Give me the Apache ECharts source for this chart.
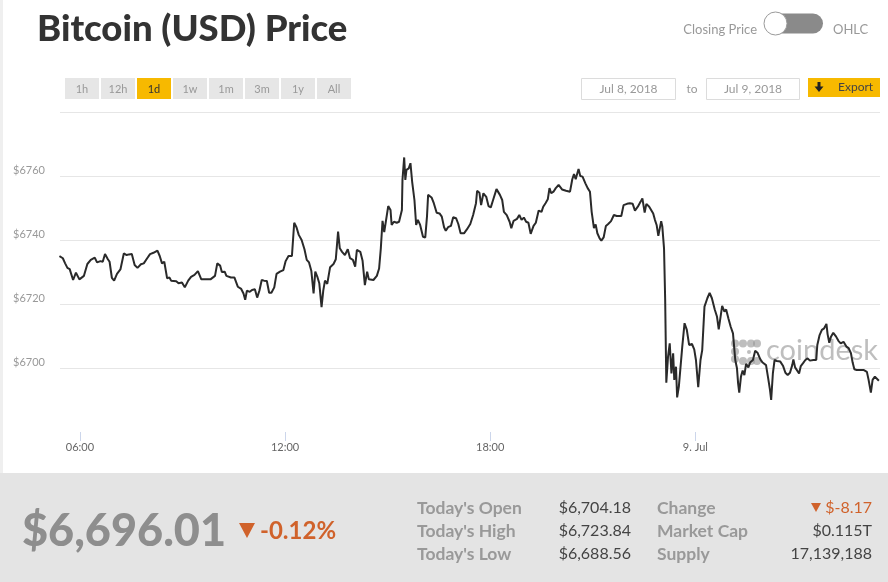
<!DOCTYPE html>
<html><head><meta charset="utf-8">
<script src="https://cdn.jsdelivr.net/npm/echarts@6/dist/echarts.min.js"></script>
<style>html,body{margin:0;padding:0;background:#fff;overflow:hidden}#c{width:888px;height:582px}</style>
</head><body><div id="c"></div>
<script>
// Sample times (HH:MM), starting Jul 8 2018; a time smaller than the previous one rolls into Jul 9
const times = [
'05:24','05:30','05:34','05:38','05:42','05:48','05:53','05:59','06:07','06:13','06:19','06:26','06:30','06:36','06:40','06:44','06:49','06:52','06:56','07:00',
'07:05','07:11','07:17','07:22','07:26','07:31','07:36','07:41','07:47','07:52','07:58','08:03','08:09','08:12','08:16','08:20','08:24','08:28','08:33','08:37',
'08:40','08:49','08:53','08:59','09:04','09:10','09:15','09:21','09:27','09:33','09:42','09:49','09:57','10:01','10:06','10:09','10:14','10:17','10:20','10:25',
'10:31','10:37','10:43','10:47','10:50','10:53','10:58','11:02','11:07','11:11','11:15','11:19','11:23','11:28','11:32','11:36','11:41','11:45','11:51','11:57',
'12:01','12:06','12:12','12:16','12:20','12:24','12:29','12:34','12:38','12:42','12:46','12:50','12:53','12:57','13:00','13:04','13:07','13:10','13:14','13:19',
'13:25','13:29','13:33','13:36','13:40','13:45','13:50','13:54','13:59','14:03','14:06','14:12','14:16','14:20','14:24','14:27','14:35','14:41','14:45','14:48',
'14:51','14:54','14:57','15:01','15:05','15:07','15:11','15:16','15:20','15:25','15:26','15:29','15:31','15:33','15:37','15:40','15:43','15:47','15:50','15:53',
'15:57','16:02','16:06','16:09','16:11','16:17','16:21','16:26','16:31','16:35','16:39','16:42','16:46','16:51','16:55','17:00','17:04','17:08','17:14','17:19',
'17:25','17:30','17:35','17:37','17:41','17:44','17:48','17:53','17:57','18:01','18:05','18:11','18:17','18:21','18:24','18:29','18:34','18:37','18:41','18:47',
'18:51','18:55','18:59','19:03','19:07','19:11','19:16','19:20','19:25','19:30','19:33','19:37','19:41','19:44','19:47','19:51','19:55','20:00','20:06','20:13',
'20:20','20:24','20:27','20:30','20:32','20:35','20:38','20:42','20:47','20:51','20:55','20:58','21:02','21:05','21:08','21:12','21:15','21:19','21:23','21:27',
'21:32','21:37','21:42','21:50','21:54','22:00','22:05','22:10','22:14','22:19','22:24','22:27','22:31','22:34','22:39','22:42','22:46','22:49','22:52','22:55',
'22:58','23:00','23:02','23:05','23:07','23:09','23:12','23:15','23:18','23:21','23:23','23:26','23:28','23:31','23:34','23:37','23:41','23:45','23:49','23:54',
'23:58','00:01','00:05','00:09','00:12','00:16','00:21','00:25','00:29','00:34','00:38','00:41','00:44','00:47','00:51','00:54','00:58','01:02','01:06','01:08',
'01:10','01:13','01:15','01:17','01:20','01:23','01:26','01:29','01:33','01:36','01:41','01:45','01:49','01:54','01:58','02:04','02:08','02:11','02:13','02:16',
'02:19','02:23','02:29','02:34','02:38','02:42','02:46','02:50','02:52','02:55','02:58','03:02','03:05','03:09','03:13','03:17','03:21','03:27','03:32','03:34',
'03:38','03:42','03:46','03:50','03:52','03:55','03:58','04:02','04:07','04:11','04:15','04:20','04:25','04:29','04:33','04:36','04:39','04:43','04:49','04:55',
'05:01','05:04','05:08','05:11','05:15','05:18','05:22'
];
const prices = [
6735.0,6734.3,6732.7,6731.3,6730.9,6727.5,6729.8,6727.7,6728.8,6732.5,6733.8,6734.5,6733.0,6733.4,6733.2,6735.6,6734.0,6733.2,6728.2,6727.3,
6729.4,6730.8,6735.8,6735.3,6735.5,6735.6,6732.2,6731.3,6732.4,6732.7,6734.3,6735.6,6736.0,6735.6,6736.7,6735.0,6732.7,6733.2,6728.0,6728.3,
6727.3,6727.1,6726.5,6726.7,6725.2,6727.3,6728.5,6729.1,6730.3,6727.7,6727.7,6727.7,6728.8,6732.7,6732.0,6730.0,6730.1,6728.8,6729.4,6728.3,
6728.3,6725.4,6724.7,6723.3,6721.3,6724.2,6723.8,6724.4,6724.6,6722.0,6724.2,6727.5,6727.3,6727.2,6723.5,6723.5,6725.2,6729.4,6730.1,6730.6,
6733.4,6735.0,6735.0,6745.4,6744.0,6741.6,6740.0,6737.1,6733.8,6733.0,6730.4,6723.3,6730.1,6728.3,6726.5,6719.0,6724.2,6727.3,6726.3,6731.5,
6732.5,6734.0,6742.6,6737.4,6736.3,6735.3,6737.1,6734.3,6733.8,6731.7,6736.9,6736.3,6733.5,6725.9,6730.1,6727.7,6727.5,6728.8,6731.1,6737.4,
6746.0,6742.5,6742.8,6750.6,6749.4,6744.7,6745.7,6745.4,6745.7,6749.4,6758.8,6765.8,6758.8,6761.9,6762.4,6764.0,6758.2,6752.5,6744.7,6746.3,
6744.7,6741.0,6740.8,6747.3,6754.1,6753.3,6751.5,6748.5,6748.3,6747.3,6744.0,6742.9,6744.0,6744.4,6747.1,6746.8,6745.0,6742.1,6742.1,6743.3,
6745.0,6747.8,6751.5,6755.4,6754.8,6750.9,6754.6,6753.5,6750.6,6750.2,6752.5,6755.9,6754.1,6752.5,6748.8,6747.8,6745.7,6743.7,6746.0,6746.6,
6747.8,6746.3,6747.0,6745.7,6745.4,6741.9,6744.4,6745.4,6749.2,6748.8,6750.4,6751.5,6752.7,6756.2,6754.6,6755.1,6756.2,6757.2,6755.8,6755.4,
6755.1,6759.0,6760.6,6759.0,6760.3,6762.2,6760.0,6759.8,6757.7,6756.2,6755.1,6748.8,6743.7,6744.9,6742.1,6740.5,6739.8,6740.8,6744.4,6745.0,
6745.9,6747.8,6747.5,6747.5,6750.9,6751.3,6751.5,6751.3,6749.2,6750.4,6752.0,6753.0,6748.6,6751.3,6750.4,6750.9,6748.3,6746.3,6744.7,6741.3,
6740.8,6745.9,6744.2,6737.4,6721.3,6695.4,6703.5,6707.7,6698.3,6704.6,6696.3,6700.4,6690.8,6694.2,6694.2,6706.7,6714.0,6711.9,6707.2,6707.5,
6705.8,6702.5,6694.0,6702.5,6705.6,6719.2,6721.8,6723.5,6721.8,6718.3,6716.0,6712.1,6712.7,6719.4,6717.6,6718.3,6715.5,6712.9,6710.8,6706.7,
6702.5,6699.9,6695.2,6692.3,6697.3,6699.2,6697.8,6701.3,6700.2,6701.7,6702.5,6705.4,6704.8,6702.7,6701.7,6700.9,6696.5,6693.1,6690.0,6698.3,
6702.5,6702.2,6702.0,6700.6,6698.5,6697.8,6698.5,6700.9,6702.7,6700.2,6700.2,6698.3,6700.6,6701.5,6702.5,6703.0,6702.3,6702.5,6702.5,6707.2,
6710.3,6711.9,6712.4,6713.8,6710.6,6707.9,6709.8,6711.0,6709.8,6708.5,6707.7,6708.2,6706.7,6706.2,6704.6,6701.7,6699.6,6699.4,6699.4,6699.4,
6698.8,6696.3,6692.3,6696.3,6697.3,6696.8,6696.0
];
const startDay = '2018-07-08';
const axisStart = '2018-07-08T05:25:00';
const axisEnd = '2018-07-09T05:24:00';
const xTickTimes = ['2018-07-08T06:00:00','2018-07-08T12:00:00','2018-07-08T18:00:00','2018-07-09T00:00:00'];
const xTickLabels = ['06:00','12:00','18:00','9. Jul'];
const yMin = 6680, yMax = 6780, yStep = 20;

const periodButtons = ['1h','12h','1d','1w','1m','3m','1y','All'];
const activePeriod = '1d';
const dateFrom = 'Jul 8, 2018', dateTo = 'Jul 9, 2018';
const currentPrice = '$6,696.01';
const changePct = '-0.12%';
const statLabelsL = ["Today's Open", "Today's High", "Today's Low"];
const statValuesL = ['$6,704.18', '$6,723.84', '$6,688.56'];
const statLabelsR = ['Change', 'Market Cap', 'Supply'];
const statValuesR = ['$-8.17', '$0.115T', '17,139,188'];

// build timestamps (day rolls over when clock goes backwards)
const base = new Date(startDay + 'T00:00:00').getTime();
let dayOffset = 0, prevMin = -1;
const seriesData = times.map((t, i) => {
  const [h, m] = t.split(':').map(Number);
  const mins = h * 60 + m;
  if (mins < prevMin) dayOffset += 1;
  prevMin = mins;
  return [base + (dayOffset * 1440 + mins) * 60000, prices[i]];
});
const tickTs = xTickTimes.map(s => new Date(s).getTime());

const FONT = 'Lato';
const ORANGE = '#d0622b';
const YELLOW = '#f7b900';
const graphics = [];
graphics.push({type:'rect', shape:{x:0,y:0,width:3,height:473}, style:{fill:'#efefef'}, silent:true});
graphics.push({type:'text', style:{x:37, y:29, text:'Bitcoin (USD) Price', font:'900 36.5px ' + FONT, fill:'#333', textVerticalAlign:'middle'}});
graphics.push({type:'text', style:{x:757, y:30, text:'Closing Price', font:'13px ' + FONT, fill:'#999', textAlign:'right', textVerticalAlign:'middle'}});
graphics.push({type:'rect', shape:{x:765, y:13.5, width:58, height:20, r:10}, style:{fill:'#8a8a8a'}});
graphics.push({type:'circle', shape:{cx:775.5, cy:23.5, r:11.5}, style:{fill:'#fff', stroke:'#9a9a9a', lineWidth:1}});
graphics.push({type:'text', style:{x:833, y:30, text:'OHLC', font:'13px ' + FONT, fill:'#999', textVerticalAlign:'middle'}});
periodButtons.forEach((b, i) => {
  const x = 65 + 36 * i;
  const act = b === activePeriod;
  graphics.push({type:'rect', shape:{x:x, y:78, width:34, height:21}, style:{fill: act ? YELLOW : '#e6e6e6'}});
  graphics.push({type:'text', style:{x:x + 17, y:89, text:b, font:'11px ' + FONT, fill: act ? '#333' : '#999', textAlign:'center', textVerticalAlign:'middle'}});
});
graphics.push({type:'rect', shape:{x:581.5, y:78.5, width:94, height:21}, style:{fill:'#fff', stroke:'#dcdcdc', lineWidth:1}});
graphics.push({type:'text', style:{x:628.5, y:89, text:dateFrom, font:'12px ' + FONT, fill:'#999', textAlign:'center', textVerticalAlign:'middle'}});
graphics.push({type:'text', style:{x:692, y:89, text:'to', font:'12px ' + FONT, fill:'#999', textAlign:'center', textVerticalAlign:'middle'}});
graphics.push({type:'rect', shape:{x:706.5, y:78.5, width:93, height:21}, style:{fill:'#fff', stroke:'#dcdcdc', lineWidth:1}});
graphics.push({type:'text', style:{x:753, y:89, text:dateTo, font:'12px ' + FONT, fill:'#999', textAlign:'center', textVerticalAlign:'middle'}});
graphics.push({type:'rect', shape:{x:808, y:78, width:72, height:19}, style:{fill:YELLOW}});
graphics.push({type:'rect', shape:{x:817.5, y:82, width:3, height:5}, style:{fill:'#222'}});
graphics.push({type:'polygon', shape:{points:[[814.5,86.5],[823.5,86.5],[819,92]]}, style:{fill:'#222'}});
graphics.push({type:'text', style:{x:838, y:87.5, text:'Export', font:'12px ' + FONT, fill:'#444', textVerticalAlign:'middle'}});
// coindesk watermark
const wm = 'rgba(150,150,150,0.62)';
[[735,343.5],[743,343.5],[751,343.5],[757,343.5],[735,351.5],[735,359],[743,361],[751,361],[757,361]].forEach(p => {
  graphics.push({type:'circle', z:0, shape:{cx:p[0], cy:p[1], r:4}, style:{fill:wm}, silent:true});
});
graphics.push({type:'circle', z:0, shape:{cx:749, cy:352, r:2}, style:{fill:wm}, silent:true});
graphics.push({type:'text', z:0, style:{x:766, y:351, text:'coindesk', font:'29px ' + FONT, fill:wm, textVerticalAlign:'middle'}, silent:true});
// bottom panel
graphics.push({type:'rect', shape:{x:0, y:473, width:888, height:109}, style:{fill:'#e4e4e4'}});
graphics.push({type:'text', style:{x:22, y:531, text:currentPrice, font:'900 45px ' + FONT, fill:'#8e8e8e', textVerticalAlign:'middle'}});
graphics.push({type:'polygon', shape:{points:[[239,523],[255,523],[247,538]]}, style:{fill:ORANGE}});
graphics.push({type:'text', style:{x:260, y:531, text:changePct, font:'bold 24px ' + FONT, fill:ORANGE, textVerticalAlign:'middle'}});
const rowsY = [508, 531, 554];
rowsY.forEach((y, i) => {
  graphics.push({type:'text', style:{x:417, y:y, text:statLabelsL[i], font:'bold 17.5px ' + FONT, fill:'#999', textVerticalAlign:'middle'}});
  graphics.push({type:'text', style:{x:631, y:y, text:statValuesL[i], font:'16px ' + FONT, fill:'#444', textAlign:'right', textVerticalAlign:'middle'}});
  graphics.push({type:'text', style:{x:657, y:y, text:statLabelsR[i], font:'bold 17.5px ' + FONT, fill:'#999', textVerticalAlign:'middle'}});
  graphics.push({type:'text', style:{x:872, y:y, text:statValuesR[i], font:'16px ' + FONT, fill: i === 0 ? ORANGE : '#444', textAlign:'right', textVerticalAlign:'middle'}});
});
graphics.push({type:'polygon', shape:{points:[[811,503],[821,503],[816,512]]}, style:{fill:ORANGE}});

const chart = echarts.init(document.getElementById('c'), null, {renderer:'canvas'});
chart.setOption({
  animation:false,
  backgroundColor:'#fff',
  grid:{left:60, right:8, top:112, bottom:150, containLabel:false},
  xAxis:{
    type:'value', min:new Date(axisStart).getTime(), max:new Date(axisEnd).getTime(),
    axisLine:{show:false},
    axisTick:{show:true, customValues:tickTs, length:9, lineStyle:{color:'#ccd6eb'}},
    axisLabel:{customValues:tickTs, color:'#666', fontSize:11, fontFamily:FONT, margin:10,
      formatter:(v) => { const i = tickTs.indexOf(v); return i >= 0 ? xTickLabels[i] : ''; }},
    splitLine:{show:false}
  },
  yAxis:{
    type:'value', min:yMin, max:yMax, interval:yStep,
    axisLine:{show:false}, axisTick:{show:false},
    axisLabel:{formatter:(v) => (v === yMin || v === yMax) ? '' : '$' + v,
      color:'#999', fontSize:11, fontFamily:FONT, align:'left', margin:47, verticalAlign:'bottom', padding:[0,0,0,0]},
    splitLine:{showMinLine:false, lineStyle:{color:'#e6e6e6', width:1}}
  },
  series:[{type:'line', data:seriesData, showSymbol:false, symbol:'none', z:5,
    lineStyle:{color:'#2a2a2a', width:2}}],
  graphic:{elements:graphics}
});
</script>
</body></html>
